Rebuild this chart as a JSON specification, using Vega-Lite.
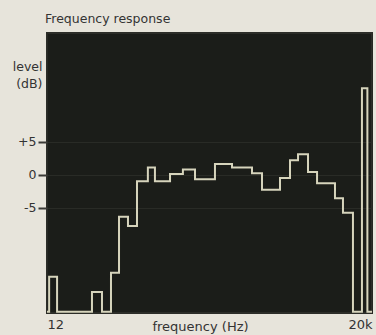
{
  "$schema": "https://vega.github.io/schema/vega-lite/v6.json",
  "width": 325,
  "height": 280,
  "autosize": {"type": "none"},
  "padding": {"left": 47, "top": 33, "right": 4, "bottom": 22},
  "background": "#e7e4db",
  "title": {
    "text": "Frequency response",
    "anchor": "start",
    "frame": "group",
    "font": "DejaVu Sans",
    "fontSize": 12.5,
    "fontWeight": "normal",
    "color": "#333333",
    "offset": 8,
    "dx": -2
  },
  "config": {
    "view": {"fill": "#1b1d19", "stroke": "#2c2d28", "strokeWidth": 2}
  },
  "data": {
    "values": [
      {"freq": 12, "level": -20.8},
      {"freq": 12.6, "level": -15.5},
      {"freq": 15.1, "level": -20.8},
      {"freq": 33.5, "level": -17.8},
      {"freq": 42.1, "level": -20.8},
      {"freq": 51.7, "level": -14.9},
      {"freq": 62.1, "level": -6.4},
      {"freq": 76.2, "level": -7.8},
      {"freq": 93.6, "level": -1.0},
      {"freq": 120, "level": 1.1},
      {"freq": 141, "level": -1.0},
      {"freq": 199, "level": 0.1},
      {"freq": 267, "level": 0.8},
      {"freq": 352, "level": -0.7},
      {"freq": 555, "level": 1.6},
      {"freq": 819, "level": 1.1},
      {"freq": 1292, "level": 0.2},
      {"freq": 1624, "level": -2.3},
      {"freq": 2449, "level": -0.5},
      {"freq": 3078, "level": 2.2},
      {"freq": 3696, "level": 3.1},
      {"freq": 4643, "level": 0.4},
      {"freq": 5705, "level": -1.3},
      {"freq": 8590, "level": -3.6},
      {"freq": 10310, "level": -5.8},
      {"freq": 12950, "level": -20.8},
      {"freq": 15900, "level": 13.1},
      {"freq": 18000, "level": -20.8},
      {"freq": 20000, "level": -20.8}
    ]
  },
  "mark": {
    "type": "line",
    "interpolate": "step-after",
    "color": "#d6d4bc",
    "strokeWidth": 2,
    "clip": true
  },
  "encoding": {
    "x": {
      "field": "freq",
      "type": "quantitative",
      "scale": {"type": "log", "domain": [12, 20000], "nice": false},
      "axis": {
        "values": [12, 20000],
        "labelExpr": "datum.value < 100 ? '12' : '20k'",
        "labelFlush": true,
        "labelFont": "DejaVu Sans",
        "labelFontSize": 13,
        "labelColor": "#333333",
        "labelPadding": 5,
        "ticks": false,
        "domain": false,
        "grid": true,
        "gridColor": "#262823",
        "gridWidth": 1,
        "title": "frequency (Hz)",
        "titleFont": "DejaVu Sans",
        "titleFontSize": 13,
        "titleFontWeight": "normal",
        "titleColor": "#333333",
        "titleY": 17,
        "titleX": 153,
        "titleBaseline": "alphabetic"
      }
    },
    "y": {
      "field": "level",
      "type": "quantitative",
      "scale": {"domain": [-21, 21.5], "nice": false, "zero": false},
      "axis": {
        "values": [-5, 0, 5],
        "labelExpr": "datum.value > 0 ? '+' + datum.value : '' + datum.value",
        "labelFont": "DejaVu Sans",
        "labelFontSize": 12.5,
        "labelColor": "#333333",
        "labelPadding": 2,
        "tickSize": 9,
        "tickWidth": 2,
        "tickColor": "#3a3a36",
        "domain": false,
        "grid": true,
        "gridColor": "#292b26",
        "gridWidth": 1,
        "title": ["level", "(dB)"],
        "titleFont": "DejaVu Sans",
        "titleFontSize": 12.5,
        "titleFontWeight": "normal",
        "titleColor": "#333333",
        "titleAngle": 0,
        "titleAlign": "right",
        "titleBaseline": "alphabetic",
        "titleX": -5,
        "titleY": 37,
        "titleLineHeight": 17
      }
    }
  }
}
